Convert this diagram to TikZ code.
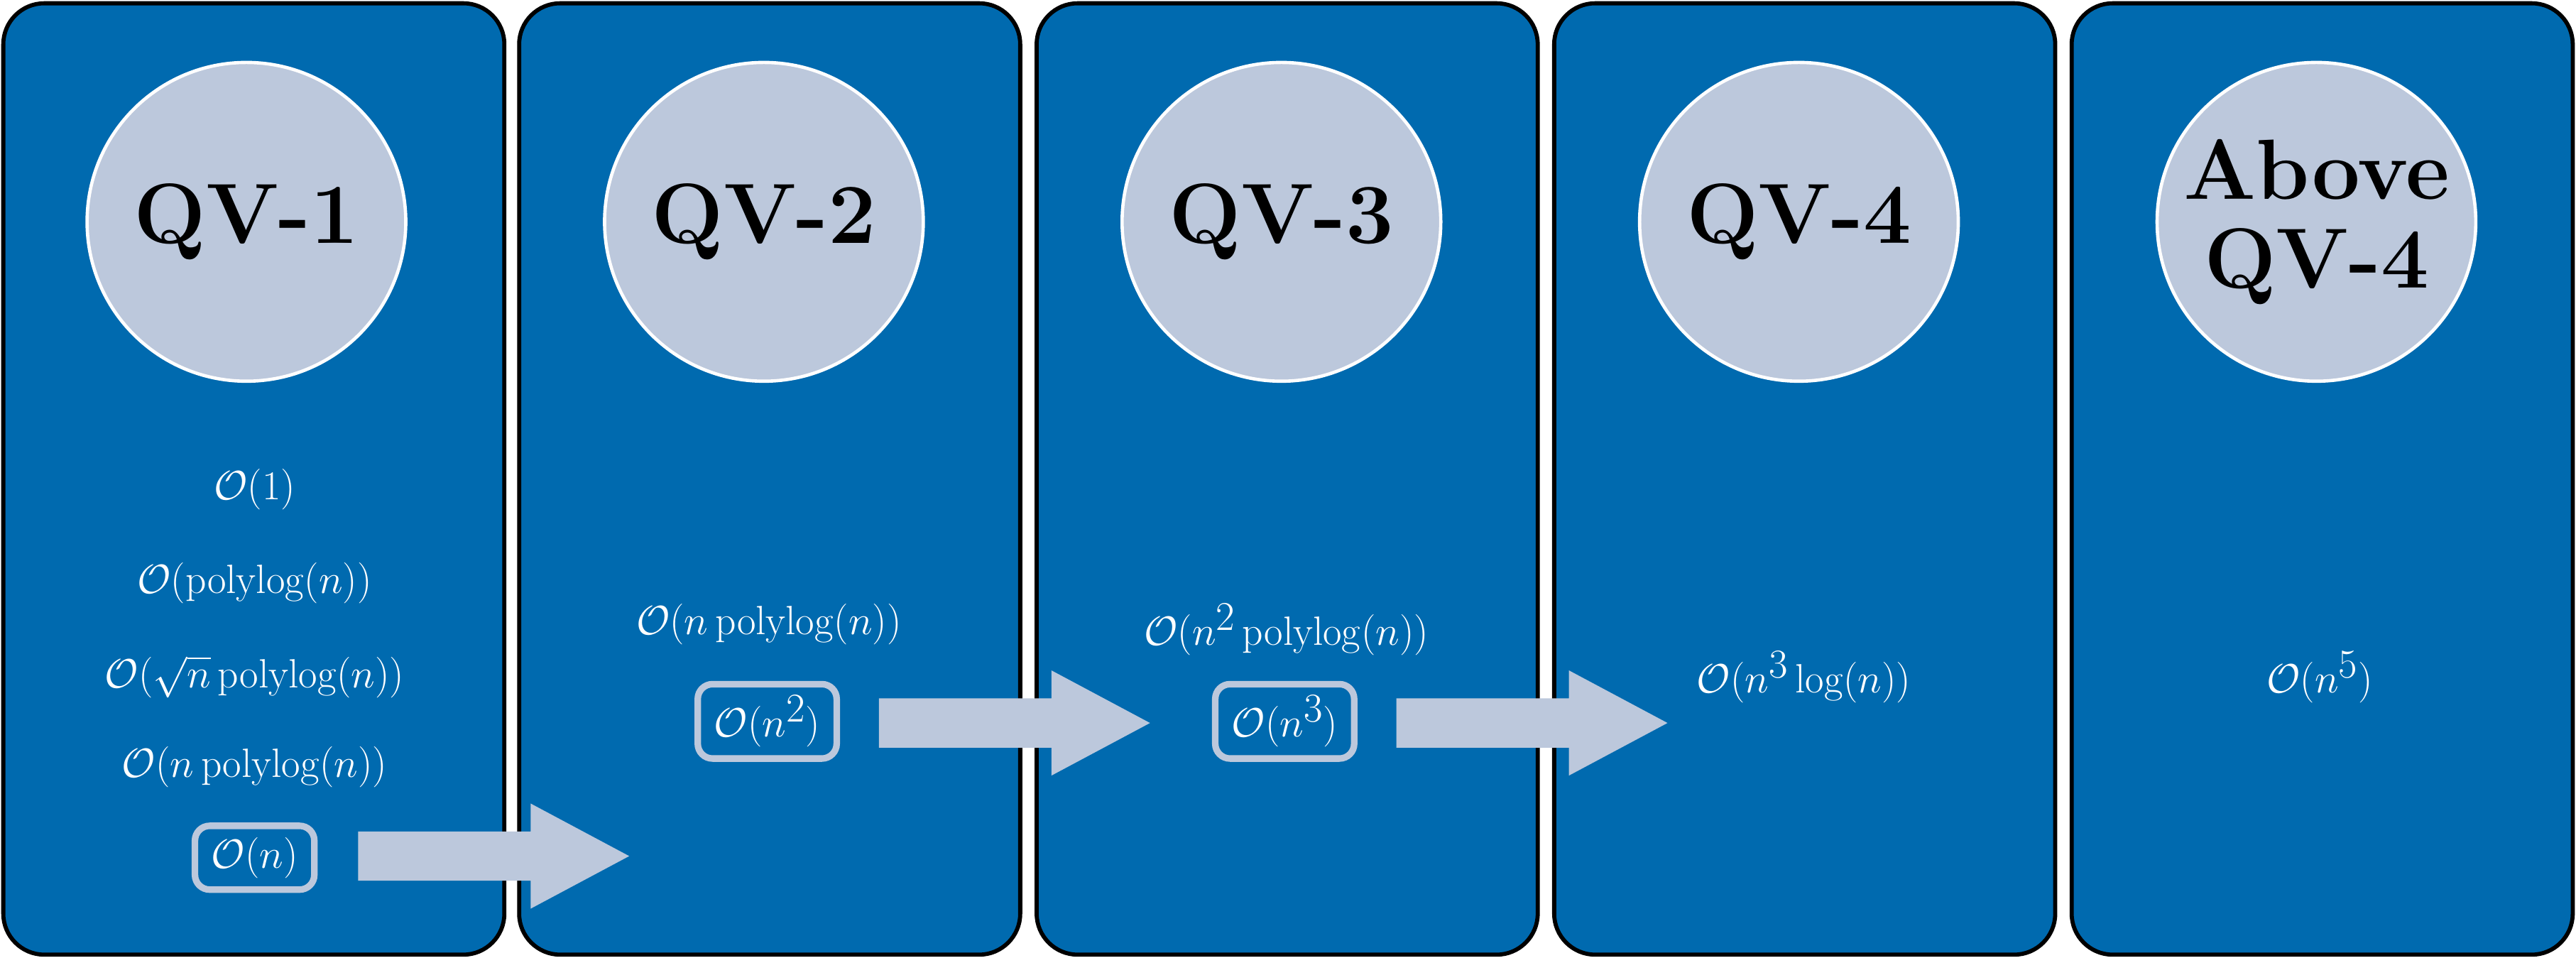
\documentclass[tikz,border=0pt]{standalone}
\definecolor{panelblue}{HTML}{006AAF}
\definecolor{pale}{HTML}{BCC8DC}
\begin{document}
\begin{tikzpicture}[x=1pt,y=-1pt,
 panel/.style={draw=black,line width=2.5pt,fill=panelblue,rounded corners=25pt},
 bubble/.style={circle,draw=white,line width=2pt,fill=pale,minimum size=194pt,inner sep=0pt,align=center,font=\fontsize{52}{54}\selectfont\bfseries},
 cx/.style={text=white,font=\fontsize{35}{40}\selectfont},
 hl/.style={cx,draw=pale,line width=4pt,rounded corners=9pt,inner xsep=10pt,inner ysep=7pt},
 bigarrow/.style={fill=pale,draw=none}]
\useasboundingbox (0,0) rectangle (1568,583);
\foreach \i/\x in {1/2,2/316,3/631,4/946,5/1261}{
  \path[panel] (\x,2) rectangle ++(305,579);
}
\node[bubble] (c1) at (150,135) {QV-1};
\node[bubble] (c2) at (465,135) {QV-2};
\node[bubble] (c3) at (780,135) {QV-3};
\node[bubble] (c4) at (1095,135) {QV-4};
\node[bubble] (c5) at (1410,135) {Above\\QV-4};
\node[cx] (a1) at (155,298) {$\mathcal{O}(1)$};
\node[cx] (a2) at (155,355) {$\mathcal{O}(\mathrm{polylog}(n))$};
\node[cx] (a3) at (155,412) {$\mathcal{O}(\sqrt{n}\,\mathrm{polylog}(n))$};
\node[cx] (a4) at (155,467) {$\mathcal{O}(n\,\mathrm{polylog}(n))$};
\node[hl] (b1) at (155,522) {$\mathcal{O}(n)$};
\node[cx] (t2) at (468,380) {$\mathcal{O}(n\,\mathrm{polylog}(n))$};
\node[hl] (b2) at (467,439) {$\mathcal{O}(n^2)$};
\node[cx] (t3) at (783,383) {$\mathcal{O}(n^2\,\mathrm{polylog}(n))$};
\node[hl] (b3) at (782,439) {$\mathcal{O}(n^3)$};
\node[cx] (t4) at (1098,412) {$\mathcal{O}(n^3\log(n))$};
\node[cx] (t5) at (1412,412) {$\mathcal{O}(n^5)$};
\foreach \b/\x/\y in {b1/218/521,b2/535/440,b3/850/440}{
  \fill[bigarrow] (\x,\y-15) -- (\x+105,\y-15) -- (\x+105,\y-32) -- (\x+165,\y) -- (\x+105,\y+32) -- (\x+105,\y+15) -- (\x,\y+15) -- cycle;
}
\end{tikzpicture}
\end{document}
